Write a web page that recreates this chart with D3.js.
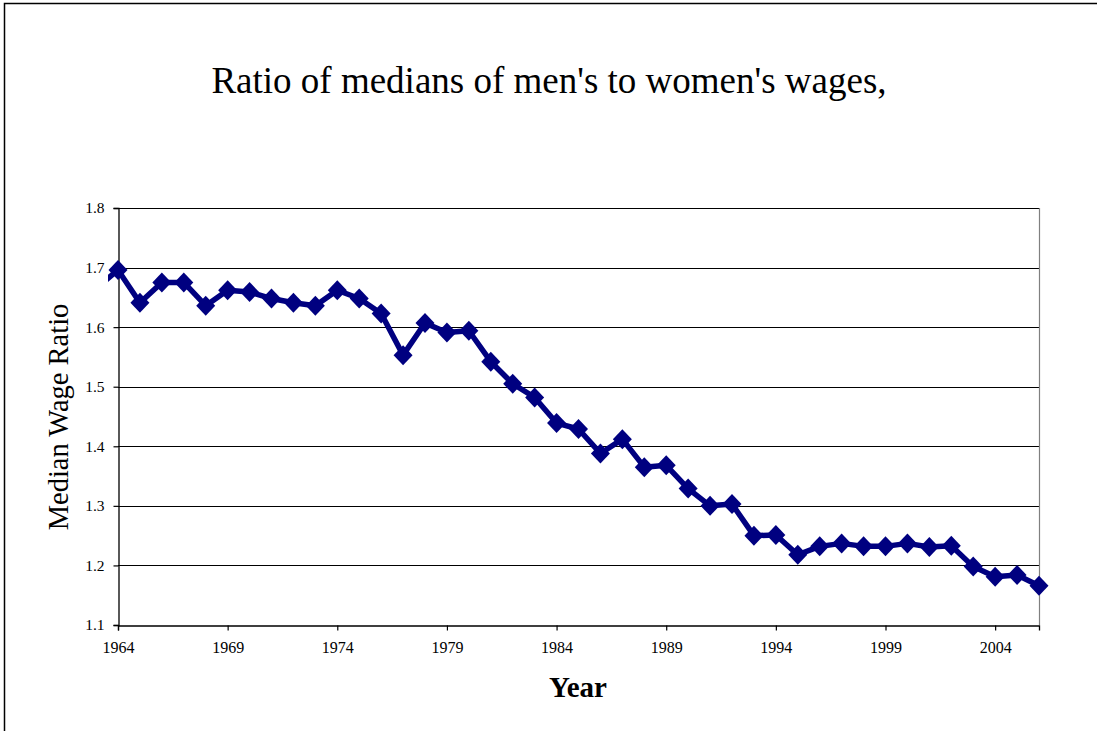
<!DOCTYPE html>
<html>
<head>
<meta charset="utf-8">
<script src="https://cdn.jsdelivr.net/npm/d3@7"></script>
<style>
  html, body { margin: 0; padding: 0; background: #fff; }
  svg { display: block; }
  text { font-family: "Liberation Serif", "Times New Roman", serif; fill: #000; }
</style>
</head>
<body>
<svg id="chart" width="1097" height="731"></svg>
<script>
// ---- data ----
const years = [1963, 1964, 1965, 1966, 1967, 1968, 1969, 1970, 1971, 1972, 1973,
  1974, 1975, 1976, 1977, 1978, 1979, 1980, 1981, 1982, 1983,
  1984, 1985, 1986, 1987, 1988, 1989, 1990, 1991, 1992, 1993,
  1994, 1995, 1996, 1997, 1998, 1999, 2000, 2001, 2002, 2003,
  2004, 2005, 2006];
const ratios = [1.665, 1.696, 1.641, 1.675, 1.675, 1.636, 1.662, 1.659, 1.648, 1.641, 1.636,
  1.662, 1.648, 1.623, 1.553, 1.607, 1.591, 1.594, 1.542, 1.505, 1.482,
  1.439, 1.429, 1.388, 1.412, 1.365, 1.368, 1.329, 1.300, 1.303, 1.250,
  1.251, 1.218, 1.232, 1.237, 1.232, 1.232, 1.237, 1.231, 1.233, 1.198,
  1.181, 1.184, 1.166];
const xTickYears = [1964, 1969, 1974, 1979, 1984, 1989, 1994, 1999, 2004];
const yTickValues = [1.1, 1.2, 1.3, 1.4, 1.5, 1.6, 1.7, 1.8];
const titleText = "Ratio of medians of men's to women's wages,";
const yAxisTitle = "Median Wage Ratio";
const xAxisTitle = "Year";

// ---- layout ----
const svg = d3.select("#chart");
const L = 118, R = 1039, T = 208, B = 625;
const x = d3.scaleLinear().domain([1964, 2006]).range([L, R]);
const y = d3.scaleLinear().domain([1.1, 1.8]).range([B, T]);

// outer frame
svg.append("path")
  .attr("d", `M4.5,731 L4.5,3.5 L1097,3.5`)
  .attr("fill", "none").attr("stroke", "#000").attr("stroke-width", 1.5);

// title
svg.append("text")
  .attr("x", 549).attr("y", 93)
  .attr("text-anchor", "middle")
  .style("font-size", "37px")
  .text(titleText);

// gridlines
svg.append("g").selectAll("line")
  .data(yTickValues.filter(v => v > 1.1))
  .join("line")
  .attr("x1", L).attr("x2", R)
  .attr("y1", d => Math.round(y(d)) + 0.5).attr("y2", d => Math.round(y(d)) + 0.5)
  .attr("stroke", "#000").attr("stroke-width", 1);

// right border of plot
svg.append("line")
  .attr("x1", R + 0.5).attr("x2", R + 0.5).attr("y1", T).attr("y2", B)
  .attr("stroke", "#808080").attr("stroke-width", 1.2);

// y axis
const yAxis = d3.axisLeft(y).tickValues(yTickValues).tickFormat(d3.format(".1f")).tickSize(5).tickPadding(9);
const gy = svg.append("g").attr("transform", `translate(${L + 0.5},0)`).call(yAxis);
gy.select(".domain").attr("stroke", "#000").attr("stroke-width", 1.3);
gy.selectAll(".tick line").attr("stroke", "#000").attr("stroke-width", 1.2);
gy.selectAll(".tick text").style("font-size", "15.5px").style("font-family", "Liberation Serif, serif");

// x axis
const xAxis = d3.axisBottom(x).tickValues(xTickYears).tickFormat(d3.format("d")).tickSize(5).tickPadding(11);
const gx = svg.append("g").attr("transform", `translate(0,${B + 0.5})`).call(xAxis);
gx.select(".domain").attr("stroke", "#000").attr("stroke-width", 1.3);
gx.selectAll(".tick line").attr("stroke", "#000").attr("stroke-width", 1.2);
gx.selectAll(".tick text").style("font-size", "16px").style("font-family", "Liberation Serif, serif");

// axis titles
svg.append("text")
  .attr("transform", `translate(68,417) rotate(-90)`)
  .attr("text-anchor", "middle")
  .style("font-size", "28.5px")
  .text(yAxisTitle);

svg.append("text")
  .attr("x", 578).attr("y", 697)
  .attr("text-anchor", "middle")
  .style("font-size", "29px").style("font-weight", "bold")
  .text(xAxisTitle);

// data line
const data = years.map((yr, i) => ({ yr, v: ratios[i] }));
svg.append("clipPath").attr("id", "clip")
  .append("rect").attr("x", L - 10).attr("y", 0).attr("width", 1097).attr("height", 731);

const navy = "#000080";
svg.append("path")
  .datum(data)
  .attr("clip-path", "url(#clip)")
  .attr("fill", "none")
  .attr("stroke", navy)
  .attr("stroke-width", 5.5)
  .attr("stroke-linejoin", "round")
  .attr("d", d3.line().x(d => x(d.yr)).y(d => y(d.v)));

// diamond markers
const hw = 9.5, hh = 10;
svg.append("g").attr("clip-path", "url(#clip)").selectAll("path")
  .data(data.filter(d => d.yr >= 1964))
  .join("path")
  .attr("fill", navy)
  .attr("d", d => {
    const cx = x(d.yr), cy = y(d.v);
    return `M${cx},${cy - hh}L${cx + hw},${cy}L${cx},${cy + hh}L${cx - hw},${cy}Z`;
  });
</script>
</body>
</html>
